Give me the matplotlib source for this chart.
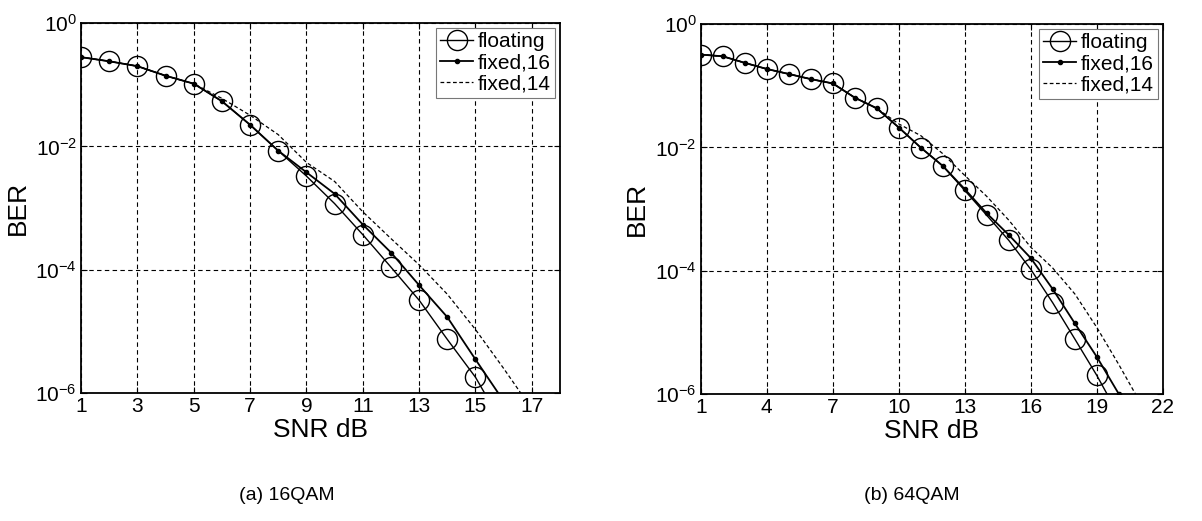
import numpy as np
import matplotlib
matplotlib.use('Agg')
import matplotlib.pyplot as plt
from matplotlib.ticker import FixedLocator, NullLocator

plt.rcParams['font.family'] = ['Liberation Sans', 'DejaVu Sans']
plt.rcParams['mathtext.fontset'] = 'custom'
plt.rcParams['mathtext.rm'] = 'Liberation Sans'
plt.rcParams['axes.unicode_minus'] = False

# (a) 16QAM
snr_a = np.arange(1, 18)
ber_a_float = [0.28, 0.24, 0.20, 0.14, 0.104, 0.054, 0.0224, 0.0085, 0.0033, 0.00118,
               3.7e-4, 1.1e-4, 3.2e-5, 7.4e-6, 1.8e-6, 2.9e-7]
ber_a_fix16 = [0.28, 0.24, 0.20, 0.14, 0.104, 0.054, 0.0224, 0.0085, 0.0038, 0.0017,
               5.4e-4, 1.9e-4, 5.6e-5, 1.7e-5, 3.5e-6, 7.4e-7]
ber_a_fix14 = [0.28, 0.24, 0.20, 0.14, 0.104, 0.060, 0.032, 0.0155, 0.0055, 0.0027,
               8.7e-4, 3.2e-4, 1.2e-4, 4.0e-5, 1.07e-5, 2.5e-6, 5.5e-7]
xticks_a = [1, 3, 5, 7, 9, 11, 13, 15, 17]

# (b) 64QAM
snr_b = np.arange(1, 22)
ber_b_float = [0.32, 0.30, 0.235, 0.187, 0.155, 0.128, 0.109, 0.064, 0.043, 0.021,
               0.0099, 0.005, 0.0020, 7.9e-4, 3.1e-4, 1.05e-4, 3.0e-5, 7.8e-6, 2.0e-6, 4.5e-7]
ber_b_fix16 = [0.32, 0.30, 0.235, 0.187, 0.155, 0.128, 0.109, 0.064, 0.043, 0.021,
               0.0099, 0.005, 0.0021, 8.5e-4, 3.8e-4, 1.6e-4, 5.0e-5, 1.4e-5, 4.0e-6, 1.0e-6, 2.0e-7]
ber_b_fix14 = [0.32, 0.30, 0.235, 0.187, 0.155, 0.128, 0.109, 0.064, 0.043, 0.024,
               0.0155, 0.0079, 0.0035, 0.0016, 6.6e-4, 2.4e-4, 1.1e-4, 4.2e-5, 1.2e-5, 3.0e-6, 7.0e-7]
xticks_b = [1, 4, 7, 10, 13, 16, 19, 22]

yticks = [1e-6, 1e-4, 1e-2, 1e0]
labels = ['floating', 'fixed,16', 'fixed,14']


def draw(ax, snr, bf, b16, b14, xticks, xmax):
    ax.semilogy(snr[:len(bf)], bf, 'k-', marker='o', markersize=14.5, markerfacecolor='none',
                markeredgewidth=1.0, linewidth=1.0, label=labels[0])
    ax.semilogy(snr[:len(b16)], b16, 'k-', marker='.', markersize=6, linewidth=1.3, label=labels[1])
    ax.semilogy(snr[:len(b14)], b14, 'k--', linewidth=0.9, dashes=(3, 2), label=labels[2])
    ax.set_xlim(1, xmax)
    ax.set_ylim(1e-6, 1)
    ax.set_xticks(xticks)
    ax.yaxis.set_major_locator(FixedLocator(yticks))
    ax.yaxis.set_minor_locator(NullLocator())
    ax.grid(True, which='major', color='k', linestyle='--', linewidth=0.8, dashes=(4, 3))
    ax.tick_params(direction='in', top=True, right=True, labelsize=15, length=4, pad=3)
    for s in ax.spines.values():
        s.set_linewidth(1.3)
    ax.set_xlabel('SNR dB', fontsize=19, labelpad=1)
    ax.set_ylabel('BER', fontsize=19, labelpad=4)
    leg = ax.legend(loc='upper right', fontsize=15, fancybox=False, framealpha=1,
                    edgecolor='#777777', handlelength=1.6, handletextpad=0.2,
                    borderpad=0.2, labelspacing=0.1, borderaxespad=0.25)
    leg.get_frame().set_linewidth(0.8)


fig = plt.figure(figsize=(12.02, 5.21), dpi=100)
ax1 = fig.add_axes([0.0674, 0.2457, 0.3985, 0.710])
ax2 = fig.add_axes([0.583, 0.2438, 0.3844, 0.710])

draw(ax1, snr_a, ber_a_float, ber_a_fix16, ber_a_fix14, xticks_a, 18)
draw(ax2, snr_b, ber_b_float, ber_b_fix16, ber_b_fix14, xticks_b, 22)

fig.text(287 / 1202, 1 - 495 / 521, '(a) 16QAM', ha='center', va='center', fontsize=14)
fig.text(912 / 1202, 1 - 495 / 521, '(b) 64QAM', ha='center', va='center', fontsize=14)

fig.savefig('out.png', dpi=100)
